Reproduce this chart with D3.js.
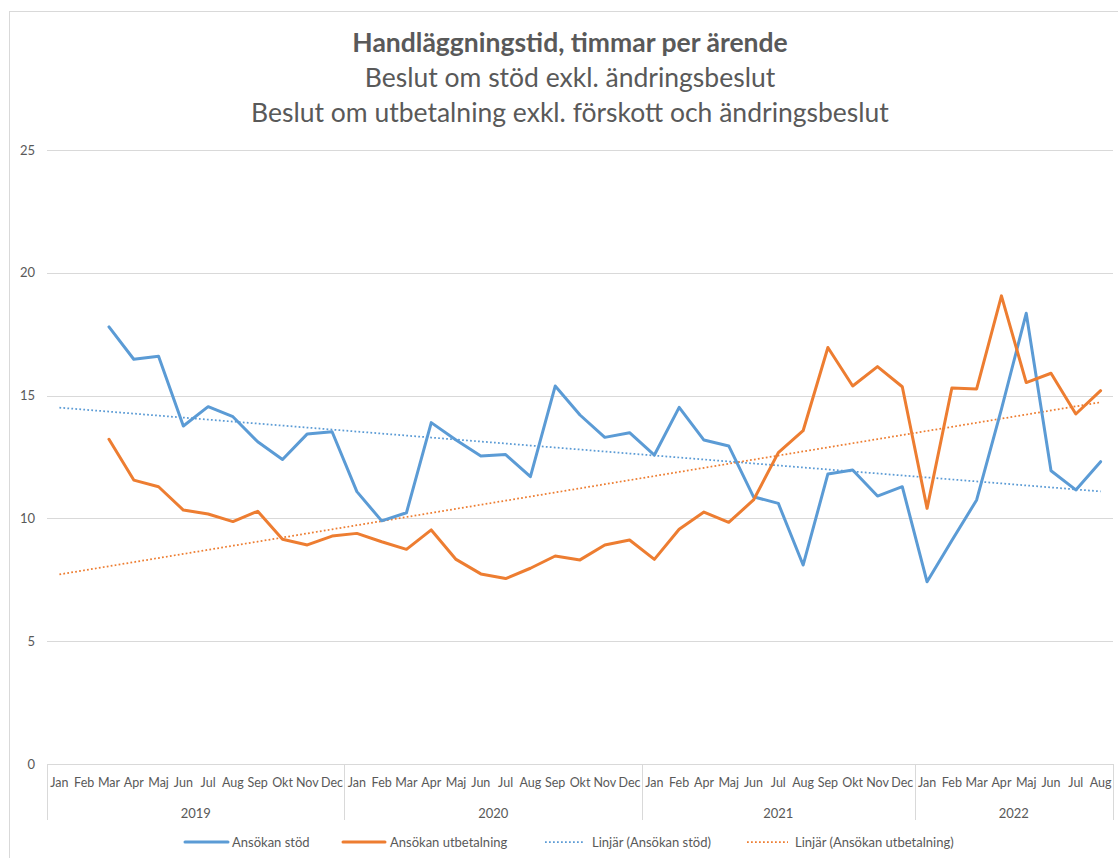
<!DOCTYPE html>
<html>
<head>
<meta charset="utf-8">
<script src="https://cdn.jsdelivr.net/npm/d3@7"></script>
<style>
  html, body { margin: 0; padding: 0; background: #fff; }
  svg { display: block; }
  text { font-family: Lato, "Open Sans", sans-serif; fill: #595959; }
</style>
</head>
<body>
<svg id="chart" width="1118" height="858"></svg>
<script>
// ---- Data ----
const months = [
  "Jan","Feb","Mar","Apr","Maj","Jun","Jul","Aug","Sep","Okt","Nov","Dec",
  "Jan","Feb","Mar","Apr","Maj","Jun","Jul","Aug","Sep","Okt","Nov","Dec",
  "Jan","Feb","Apr","Maj","Jun","Jul","Aug","Sep","Okt","Nov","Dec",
  "Jan","Feb","Mar","Apr","Maj","Jun","Jul","Aug"
];
const years = ["2019","2020","2021","2022"];
const yearCounts = [12, 12, 11, 8];
const ansokanStod = [
  null, null, 17.8, 16.48, 16.6, 13.76, 14.55, 14.14, 13.12, 12.4, 13.44, 13.53,
  11.09, 9.9, 10.23, 13.9, 13.19, 12.54, 12.6, 11.7, 15.39, 14.21, 13.3, 13.49,
  12.58, 14.52, 13.19, 12.95, 10.88, 10.61, 8.1, 11.81, 11.97, 10.91, 11.29,
  7.42, 9.1, 10.75, 14.45, 18.35, 11.94, 11.16, 12.31
];
const ansokanUtbetalning = [
  null, null, 13.22, 11.56, 11.29, 10.34, 10.18, 9.87, 10.29, 9.15, 8.92, 9.28,
  9.39, 9.05, 8.74, 9.53, 8.33, 7.74, 7.55, 7.97, 8.47, 8.31, 8.92, 9.12,
  8.33, 9.56, 10.26, 9.84, 10.75, 12.68, 13.57, 16.96, 15.39, 16.18, 15.36,
  10.41, 15.31, 15.27, 19.06, 15.53, 15.91, 14.25, 15.2
];
const yTicks = [0, 5, 10, 15, 20, 25];
const titleLines = [
  "Handläggningstid, timmar per ärende",
  "Beslut om stöd exkl. ändringsbeslut",
  "Beslut om utbetalning exkl. förskott och ändringsbeslut"
];
const legendLabels = ["Ansökan stöd", "Ansökan utbetalning", "Linjär (Ansökan stöd)", "Linjär (Ansökan utbetalning)"];
const colors = ["#5B9BD5", "#ED7D31"];

// ---- Layout ----
const svg = d3.select("#chart");
const plot = { left: 47, right: 1113, top: 150, bottom: 764 };

// outer border
svg.append("rect").attr("x", 9.5).attr("y", 11.5).attr("width", 1130).attr("height", 870)
  .attr("fill", "none").attr("stroke", "#d9d9d9").attr("stroke-width", 1);

const idx = d3.range(months.length);
const x = d3.scaleBand().domain(idx).range([plot.left, plot.right]).padding(0);
const cx = i => x(i) + x.bandwidth() / 2;
const y = d3.scaleLinear().domain([0, 25]).range([plot.bottom, plot.top]);

// gridlines
svg.append("g").selectAll("line").data(yTicks.filter(t => t > 0)).join("line")
  .attr("x1", plot.left).attr("x2", plot.right)
  .attr("y1", d => Math.round(y(d)) + 0.5).attr("y2", d => Math.round(y(d)) + 0.5)
  .attr("stroke", "#d9d9d9").attr("stroke-width", 1);

// y labels
svg.append("g").selectAll("text").data(yTicks).join("text")
  .attr("x", 35).attr("y", d => y(d)).attr("dy", "0.35em")
  .attr("text-anchor", "end").style("font-size", "13px").text(d => d);

// x axis line
svg.append("line").attr("x1", plot.left).attr("x2", plot.right)
  .attr("y1", plot.bottom + 0.5).attr("y2", plot.bottom + 0.5)
  .attr("stroke", "#d9d9d9").attr("stroke-width", 1);

// year separators
let starts = [0];
yearCounts.forEach((c, k) => starts.push(starts[k] + c));
svg.append("g").selectAll("line").data(starts).join("line")
  .attr("x1", d => d < months.length ? Math.round(x(d)) + 0.5 : plot.right + 0.5)
  .attr("x2", d => d < months.length ? Math.round(x(d)) + 0.5 : plot.right + 0.5)
  .attr("y1", plot.bottom).attr("y2", 820)
  .attr("stroke", "#d9d9d9").attr("stroke-width", 1);

// month labels
svg.append("g").selectAll("text").data(idx).join("text")
  .attr("x", d => cx(d)).attr("y", 783).attr("dy", "0.35em")
  .attr("text-anchor", "middle").style("font-size", "12.5px").text(d => months[d]);

// year labels
svg.append("g").selectAll("text").data(years).join("text")
  .attr("x", (d, k) => {
    const a = x(starts[k]);
    const b = starts[k + 1] < months.length ? x(starts[k + 1]) : plot.right;
    return (a + b) / 2;
  })
  .attr("y", 813).attr("dy", "0.35em")
  .attr("text-anchor", "middle").style("font-size", "13px").text(d => d);

// trend lines (least squares on category position, as the spreadsheet does)
function trend(values) {
  const pts = values.map((v, i) => [i + 1, v]).filter(p => p[1] != null);
  const mx = d3.mean(pts, p => p[0]), my = d3.mean(pts, p => p[1]);
  const b = d3.sum(pts, p => (p[0] - mx) * (p[1] - my)) / d3.sum(pts, p => (p[0] - mx) ** 2);
  const a = my - b * mx;
  return idx.map(i => ({ i, v: a + b * (i + 1) }));
}
const lineGen = d3.line().defined(d => d.v != null).x(d => cx(d.i)).y(d => y(d.v));

[ansokanStod, ansokanUtbetalning].forEach((s, k) => {
  svg.append("path").datum(trend(s)).attr("d", lineGen)
    .attr("fill", "none").attr("stroke", colors[k]).attr("stroke-width", 1.75)
    .attr("stroke-dasharray", "1.75,2.25");
});

[ansokanStod, ansokanUtbetalning].forEach((s, k) => {
  svg.append("path").datum(s.map((v, i) => ({ i, v }))).attr("d", lineGen)
    .attr("fill", "none").attr("stroke", colors[k]).attr("stroke-width", 3)
    .attr("stroke-linejoin", "round").attr("stroke-linecap", "round");
});

// title
svg.append("text").attr("x", 570).attr("y", 43).attr("dy", "0.35em").attr("text-anchor", "middle")
  .style("font-size", "26.5px").style("font-weight", "bold").text(titleLines[0]);
svg.append("text").attr("x", 570).attr("y", 78).attr("dy", "0.35em").attr("text-anchor", "middle")
  .style("font-size", "26.5px").text(titleLines[1]);
svg.append("text").attr("x", 570).attr("y", 113).attr("dy", "0.35em").attr("text-anchor", "middle")
  .style("font-size", "26.5px").text(titleLines[2]);

// legend
const legendItems = [
  { x1: 185, x2: 228, tx: 232, c: colors[0], dash: null, w: 3 },
  { x1: 343, x2: 385, tx: 390, c: colors[1], dash: null, w: 3 },
  { x1: 545, x2: 585, tx: 592, c: colors[0], dash: "1.75,2.25", w: 1.75 },
  { x1: 747, x2: 788, tx: 795, c: colors[1], dash: "1.75,2.25", w: 1.75 }
];
const lg = svg.append("g");
legendItems.forEach((it, k) => {
  lg.append("line").attr("x1", it.x1).attr("x2", it.x2).attr("y1", 842).attr("y2", 842)
    .attr("stroke", it.c).attr("stroke-width", it.w)
    .attr("stroke-dasharray", it.dash).attr("stroke-linecap", it.dash ? null : "round");
  lg.append("text").attr("x", it.tx).attr("y", 842).attr("dy", "0.35em")
    .style("font-size", "13px").text(legendLabels[k]);
});
</script>
</body>
</html>
